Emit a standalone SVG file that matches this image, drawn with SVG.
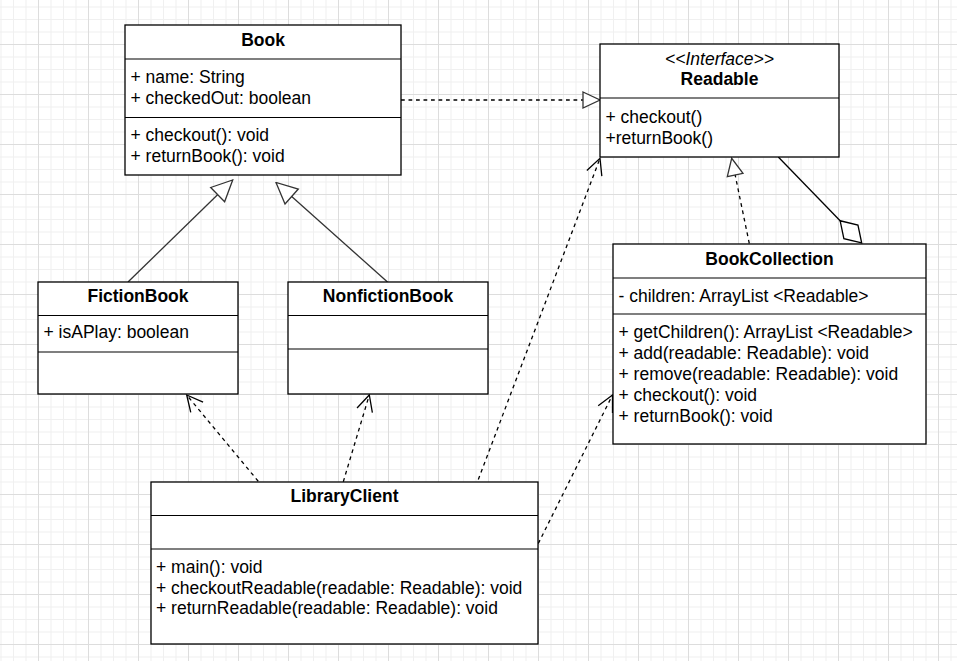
<svg xmlns="http://www.w3.org/2000/svg" width="957" height="661" viewBox="0 0 957 661">
<style>
.box{fill:#fff;stroke:#000;stroke-width:1.3}
.div{stroke:#000;stroke-width:1.2;fill:none}
.t{font-family:"Liberation Sans",Arial,sans-serif;font-size:17.5px;fill:#000}
.b{font-weight:bold;text-anchor:middle}
.i{font-style:italic;text-anchor:middle}
.c{text-anchor:middle}
.solid{fill:none;stroke:#333;stroke-width:1.3}
.dash{fill:none;stroke:#000;stroke-width:1.3;stroke-dasharray:3.75 3.75}
</style>
<defs>
<pattern id="grid" width="50" height="50" patternUnits="userSpaceOnUse" x="38" y="44">
<rect width="50" height="50" fill="#fff"/>
<path d="M13,0V50M25.5,0V50M38,0V50M0,13H50M0,25.5H50M0,38H50" stroke="#f0f0f0" stroke-width="1"/>
<path d="M0.5,0V50M0,0.5H50" stroke="#dddddd" stroke-width="1"/>
</pattern>
<marker id="triBig" markerUnits="userSpaceOnUse" markerWidth="24" markerHeight="24" viewBox="-2 -12 24 24" refX="21" refY="0" orient="auto">
<path d="M0,-10 L21,0 L0,10 Z" fill="#fff" stroke="#333" stroke-width="1.3"/>
</marker>
<marker id="triSmall" markerUnits="userSpaceOnUse" markerWidth="22" markerHeight="20" viewBox="-2 -10 22 20" refX="17" refY="0" orient="auto">
<path d="M0,-8 L17,0 L0,8 Z" fill="#fff" stroke="#333" stroke-width="1.3"/>
</marker>
<marker id="open" markerUnits="userSpaceOnUse" markerWidth="22" markerHeight="22" viewBox="-2 -11 22 22" refX="16" refY="0" orient="auto">
<path d="M0,-8 L16,0 L0,8" fill="none" stroke="#000" stroke-width="1.3"/>
</marker>
<marker id="diamond" markerUnits="userSpaceOnUse" markerWidth="36" markerHeight="24" viewBox="-2 -12 36 24" refX="31" refY="0" orient="auto">
<path d="M0,0 L15.5,-9.8 L31,0 L15.5,9.8 Z" fill="#fff" stroke="#000" stroke-width="1.3"/>
</marker>
</defs>
<rect width="957" height="661" fill="url(#grid)"/>

<g id="connectors">
<path class="dash" d="M401,100 L600,100" marker-end="url(#triSmall)"/>
<path class="solid" d="M128,282 L232.7,180" marker-end="url(#triBig)"/>
<path class="solid" d="M387.5,282 L276,182.5" marker-end="url(#triBig)"/>
<path class="dash" d="M263,487 L186.7,395" marker-end="url(#open)"/>
<path class="dash" d="M343.3,481.7 L369.3,395" marker-end="url(#open)"/>
<path class="dash" d="M478.3,479.5 L600,158.3" marker-end="url(#open)"/>
<path class="dash" d="M538.3,543.5 L612.5,395" marker-end="url(#open)"/>
<path class="dash" d="M749.3,243.5 L731.7,158.3" marker-end="url(#triSmall)"/>
<path class="solid" style="stroke:#000" d="M778.3,157 L861.7,243" marker-end="url(#diamond)"/>
</g>

<g id="Book">
<rect class="box" x="125" y="25" width="276" height="150"/>
<path class="div" d="M125,59H401M125,117.5H401"/>
<text class="t b" x="263" y="46">Book</text>
<text class="t" x="130.5" y="83">+ name: String</text>
<text class="t" x="130.5" y="104">+ checkedOut: boolean</text>
<text class="t" x="130.5" y="141">+ checkout(): void</text>
<text class="t" x="130.5" y="162">+ returnBook(): void</text>
</g>

<g id="Readable">
<rect class="box" x="600" y="44" width="239" height="113"/>
<path class="div" d="M600,98H839"/>
<text class="t i" x="719.5" y="65">&lt;&lt;Interface&gt;&gt;</text>
<text class="t b" x="719.5" y="85">Readable</text>
<text class="t" x="605.5" y="123">+ checkout()</text>
<text class="t" x="605.5" y="144">+returnBook()</text>
</g>

<g id="FictionBook">
<rect class="box" x="38" y="282" width="200" height="112"/>
<path class="div" d="M38,315.5H238M38,352H238"/>
<text class="t b" x="138" y="302">FictionBook</text>
<text class="t" x="43.5" y="338">+ isAPlay: boolean</text>
</g>

<g id="NonfictionBook">
<rect class="box" x="288" y="282" width="200" height="112"/>
<path class="div" d="M288,315.5H488M288,349H488"/>
<text class="t b" x="388" y="302">NonfictionBook</text>
</g>

<g id="BookCollection">
<rect class="box" x="613" y="244" width="313" height="200"/>
<path class="div" d="M613,278H926M613,314H926"/>
<text class="t b" x="769.5" y="265">BookCollection</text>
<text class="t" x="618.5" y="302">- children: ArrayList &lt;Readable&gt;</text>
<text class="t" x="618.5" y="338">+ getChildren(): ArrayList &lt;Readable&gt;</text>
<text class="t" x="618.5" y="359">+ add(readable: Readable): void</text>
<text class="t" x="618.5" y="380">+ remove(readable: Readable): void</text>
<text class="t" x="618.5" y="401">+ checkout(): void</text>
<text class="t" x="618.5" y="422">+ returnBook(): void</text>
</g>

<g id="LibraryClient">
<rect class="box" x="151" y="482" width="387" height="162"/>
<path class="div" d="M151,515.5H538M151,549H538"/>
<text class="t b" x="344.5" y="502">LibraryClient</text>
<text class="t" x="156" y="573">+ main(): void</text>
<text class="t" x="156" y="594">+ checkoutReadable(readable: Readable): void</text>
<text class="t" x="156" y="614">+ returnReadable(readable: Readable): void</text>
</g>
</svg>
